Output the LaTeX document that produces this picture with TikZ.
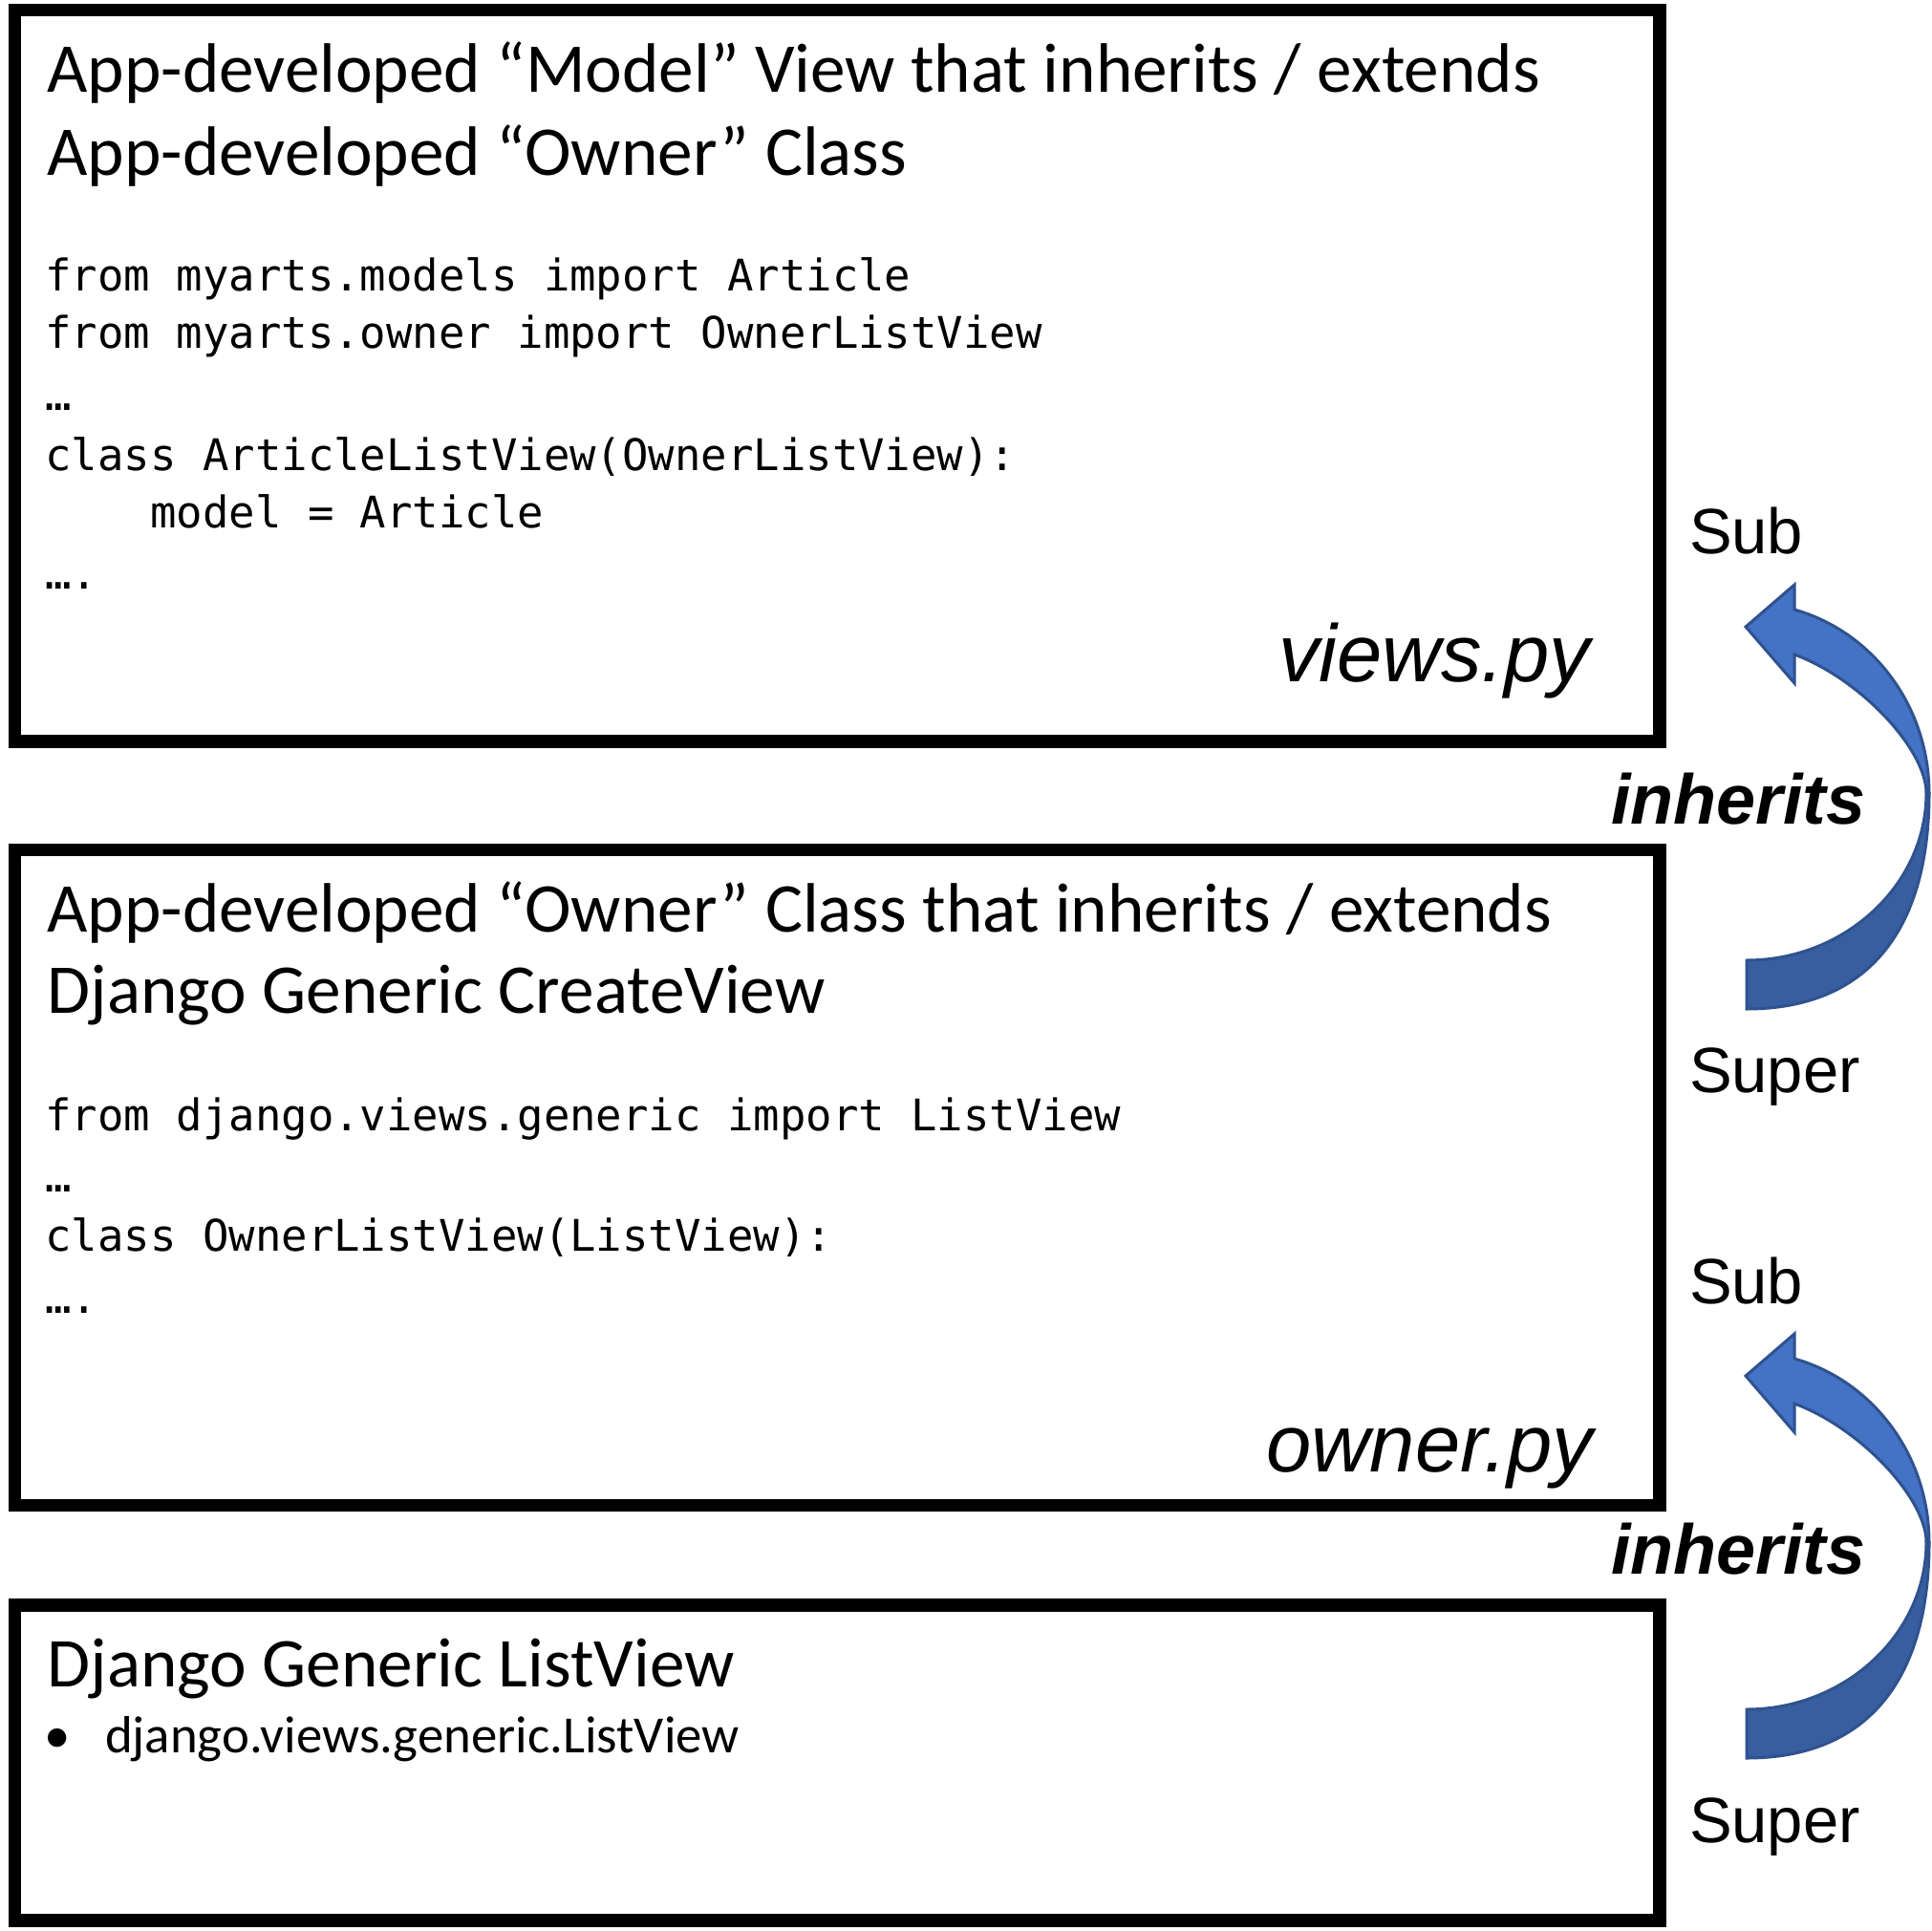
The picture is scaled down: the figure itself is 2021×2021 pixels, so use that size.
\documentclass[tikz,border=0pt]{standalone}
\usepackage{fontspec}
\setmainfont{Carlito}
\newfontfamily\arialf{Liberation Sans}
\newfontfamily\monof{DejaVu Sans Mono}
\usetikzlibrary{fit}
\definecolor{arrowlight}{HTML}{4472C4}
\definecolor{arrowdark}{HTML}{375E9F}
\definecolor{arrowline}{HTML}{2F528F}
\tikzset{
  box/.style={draw=black, line width=3.375pt, inner sep=0pt, outer sep=0pt, fill=none},
  txt/.style={anchor=base west, inner sep=0pt, outer sep=0pt},
  title/.style={txt, font=\fontsize{18.3pt}{21.75pt}\selectfont},
  bullettxt/.style={txt, font=\fontsize{13.7pt}{16pt}\selectfont},
  code/.style={txt, font=\monof\fontsize{11.4pt}{14pt}\selectfont},
  fname/.style={anchor=base east, inner sep=0pt, outer sep=0pt, font=\arialf\itshape\fontsize{21.25pt}{25pt}\selectfont},
  inh/.style={txt, font=\arialf\bfseries\itshape\fontsize{18.45pt}{22pt}\selectfont},
  side/.style={txt, font=\arialf\fontsize{16.75pt}{20pt}\selectfont},
  bandlight/.style={fill=arrowlight, draw=arrowline, line width=0.75pt, line join=miter},
  banddark/.style={fill=arrowdark, draw=arrowline, line width=0.75pt},
}
\begin{document}
\begin{tikzpicture}[x=0.25pt, y=-0.25pt]
\useasboundingbox (0,0) rectangle (2021,2021);
\fill[white] (0,0) rectangle (2021,2021);

% boxes
\node[box, fit={(15.5,10.5) (1737,776)}] (b1) {};
\node[box, fit={(15.5,889.5) (1737,1575.5)}] (b2) {};
\node[box, fit={(15.5,1680) (1737,2010)}] (b3) {};

% box 1 texts
\node[title] (t1a) at (49.5,96.5) {App-developed “Model” View that inherits / extends};
\node[title] (t1b) at (49.5,183.5) {App-developed “Owner” Class};
\node[code] (c1a) at (47.5,305) {from myarts.models import Article};
\node[code] (c1b) at (47.5,365) {from myarts.owner import OwnerListView};
\node[code] (c1c) at (47.5,429) {…};
\node[code] (c1d) at (47.5,492) {class ArticleListView(OwnerListView):};
\node[code] (c1e) at (157.3,552) {model = Article};
\node[code] (c1f) at (47.5,616) {….};
\node[fname] (f1) at (1664,713) {views.py};

% box 2 texts
\node[title] (t2a) at (49.5,975) {App-developed “Owner” Class that inherits / extends};
\node[title] (t2b) at (49.5,1060) {Django Generic CreateView};
\node[code] (c2a) at (47.5,1183) {from django.views.generic import ListView};
\node[code] (c2b) at (47.5,1247) {…};
\node[code] (c2c) at (47.5,1309) {class OwnerListView(ListView):};
\node[code] (c2d) at (47.5,1374) {….};
\node[fname] (f2) at (1667,1540) {owner.py};

% box 3 texts
\node[title] (t3a) at (49.5,1765) {Django Generic ListView};
\node[bullettxt] (t3bul) at (47,1834) {•};
\node[bullettxt] (t3b) at (110,1834) {django.views.generic.ListView};

% side labels
\node[side] (sub1) at (1768,579) {Sub};
\node[side] (sup1) at (1768,1143) {Super};
\node[side] (sub2) at (1768,1364) {Sub};
\node[side] (sup2) at (1768,1928) {Super};
\node[inh] (inh1) at (1686,862) {inherits};
\node[inh] (inh2) at (1686,1647) {inherits};

% curved arrows
\foreach \dy in {0,784} {
\begin{scope}[shift={(0,\dy)}]
  \path[banddark] (1828,1056) .. controls (1952,1056) and (2019,977) .. (2019,830)
    -- (2016,830) .. controls (2016,926) and (1931,1005) .. (1828,1005) -- cycle;
  \path[bandlight] (1827,656) -- (1878,612) -- (1878,638)
    arc[start angle=-74.8, end angle=0, x radius=191, y radius=199]
    -- (2016,830) .. controls (2016,785) and (1948,711) .. (1878,685)
    -- (1878,715) -- cycle;
\end{scope}
}
\end{tikzpicture}
\end{document}
